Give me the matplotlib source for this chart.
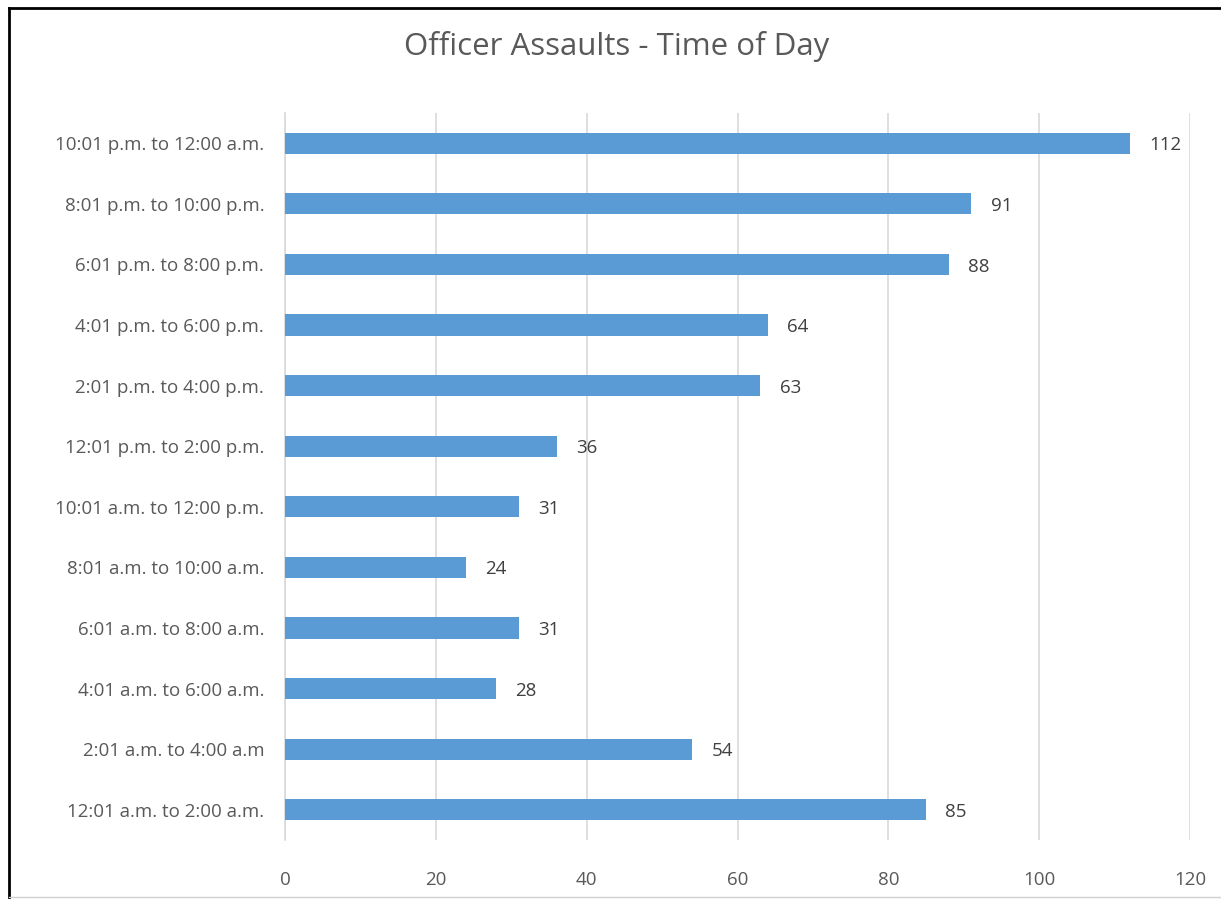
import matplotlib
matplotlib.use("Agg")
import matplotlib.pyplot as plt
from matplotlib.lines import Line2D

# data, bottom row first
periods = [
    "12:01 a.m. to 2:00 a.m.",
    "2:01 a.m. to 4:00 a.m",
    "4:01 a.m. to 6:00 a.m.",
    "6:01 a.m. to 8:00 a.m.",
    "8:01 a.m. to 10:00 a.m.",
    "10:01 a.m. to 12:00 p.m.",
    "12:01 p.m. to 2:00 p.m.",
    "2:01 p.m. to 4:00 p.m.",
    "4:01 p.m. to 6:00 p.m.",
    "6:01 p.m. to 8:00 p.m.",
    "8:01 p.m. to 10:00 p.m.",
    "10:01 p.m. to 12:00 a.m.",
]
assaults = [85, 54, 28, 31, 24, 31, 36, 63, 64, 88, 91, 112]
x_ticks = [0, 20, 40, 60, 80, 100, 120]

plt.rcParams['font.family'] = ['Open Sans', 'DejaVu Sans']
text_col = "#595959"
bar_col = "#5B9BD5"

fig = plt.figure(figsize=(12.21, 8.99), dpi=100)
ax = fig.add_axes([285/1221, 1 - 840/899, 905/1221, 727/899])

ypos = list(range(len(periods)))
ax.barh(ypos, assaults, height=0.35, color=bar_col, zorder=3)
for y, v in zip(ypos, assaults):
    ax.annotate(str(v), (v, y), xytext=(14, -1.5), textcoords="offset points",
                va="center", ha="left", fontsize=13.5, color="#404040")

ax.set_xlim(0, 120)
ax.set_ylim(-0.5, len(periods) - 0.5)
ax.set_xticks(x_ticks)
ax.set_yticks(ypos)
ax.set_yticklabels(periods)
ax.tick_params(axis="both", length=0, labelsize=13.5, colors=text_col)
ax.tick_params(axis="x", pad=22)
ax.tick_params(axis="y", pad=15)
ax.grid(axis="x", color="#D9D9D9", linewidth=1.2, zorder=0)
for s in ["top", "right", "bottom"]:
    ax.spines[s].set_visible(False)
ax.spines["left"].set_color("#D9D9D9")
ax.spines["left"].set_linewidth(1.2)

fig.text(617/1221, 1 - 47/899, "Officer Assaults - Time of Day",
         ha="center", va="center", fontsize=22.5, color=text_col)

# outer frame of the chart picture
fig.add_artist(Line2D([9/1221, 9/1221], [0, 1 - 8/899], color="black",
                      linewidth=2, transform=fig.transFigure))
fig.add_artist(Line2D([9/1221, 1], [1 - 8/899, 1 - 8/899], color="black",
                      linewidth=2, transform=fig.transFigure))
fig.add_artist(Line2D([9/1221, 1], [1 - 897/899, 1 - 897/899], color="#D0D0D0",
                      linewidth=1, transform=fig.transFigure))

fig.savefig("out.png", dpi=100)
